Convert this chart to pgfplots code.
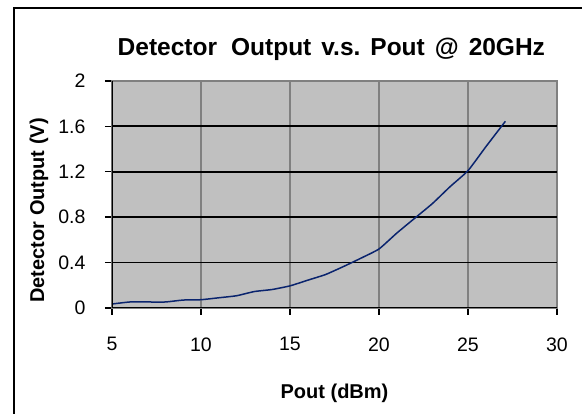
\documentclass[border=0pt]{standalone}
\usepackage{fontspec}
\setmainfont{Liberation Sans}
\usepackage{pgfplots}
\pgfplotsset{compat=1.18}
\definecolor{bggray}{RGB}{192,192,192}
\definecolor{gridgray}{RGB}{128,128,128}
\definecolor{navyline}{RGB}{10,36,110}
\begin{document}
\begin{tikzpicture}[x=1pt,y=1pt]
\useasboundingbox (0,0) rectangle (582,414);
\draw[line width=1.6pt] (14,-10) -- (14,406) -- (600,406);
\begin{axis}[
  at={(112pt,106pt)}, anchor=south west,
  scale only axis, width=445pt, height=227pt,
  xmin=5, xmax=30, ymin=0, ymax=2,
  xtick={5,10,15,20,25,30},
  ytick={0,0.4,0.8,1.2,1.6,2},
  yticklabels={0,0.4,0.8,1.2,1.6,2},
  axis background/.style={fill=bggray},
  axis line style={draw=gridgray, line width=1.5pt},
  xmajorgrids, x grid style={gridgray, line width=1.5pt},
  extra y ticks={0.4,0.8,1.2,1.6}, extra y tick labels={},
  extra y tick style={ymajorgrids=true, major tick length=0pt, y grid style={black, line width=1.8pt}},
  tick align=outside, xtick pos=bottom, ytick pos=left,
  tick style={black, line width=1.4pt}, major tick length=7pt,
  ticklabel style={font=\fontsize{19.5}{23}\selectfont},
  xticklabel style={yshift=-19pt},
  yticklabel style={xshift=-16pt},
  /pgf/number format/assume math mode=true,
  xlabel={Pout (dBm)}, ylabel={Detector Output (V)},
  label style={font=\bfseries\fontsize{20}{24}\selectfont},
  xlabel style={at={(axis description cs:0.5,-0.378)}, anchor=center},
  ylabel style={at={(axis description cs:-0.164,0.43)}, anchor=center},
  title={Detector\hspace{14pt}Output\hspace{10pt}v.s.\hspace{10pt}Pout\hspace{10pt}@\hspace{10pt}20GHz},
  title style={font=\bfseries\fontsize{24.5}{28}\selectfont, at={(axis description cs:0.493,1.115)}, anchor=center},
]
\addplot[navyline, line width=1.5pt, smooth, tension=0.3] coordinates {
(5,0.035) (6,0.053) (7,0.053) (8,0.053) (9,0.07) (10,0.073) (11,0.09) (12,0.108)
(13,0.145) (14,0.163) (15,0.195) (16,0.245) (17,0.295) (18,0.365) (19,0.44) (20,0.52)
(21,0.66) (22,0.79) (23,0.92) (24,1.07) (25,1.21) (26,1.42) (27.1,1.645)
};
\draw[black, line width=1.6pt] (rel axis cs:0,0) -- (rel axis cs:0,1);
\draw[black, line width=2.2pt] (rel axis cs:0,0) -- (rel axis cs:1,0);
\end{axis}
\end{tikzpicture}
\end{document}
